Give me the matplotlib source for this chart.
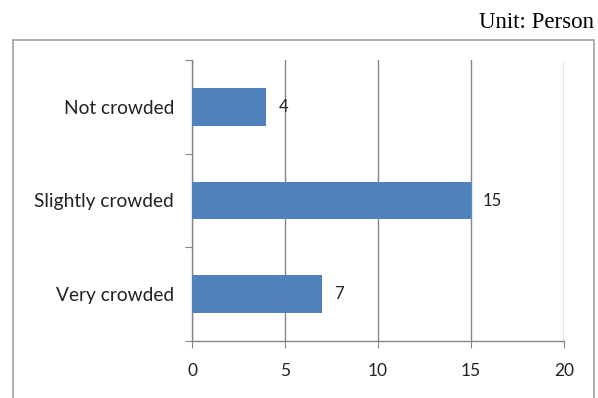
import matplotlib.pyplot as plt
from matplotlib.patches import Rectangle

categories = ['Very crowded', 'Slightly crowded', 'Not crowded']
counts = [7, 15, 4]
xticks = [0, 5, 10, 15, 20]

bar_color = '#4F81BD'
line_color = '#868686'
font = 'Lato'

fig = plt.figure(figsize=(5.98, 3.98), dpi=100)
ax = fig.add_axes([192 / 598, 57 / 398, 372 / 598, 281 / 398])

pos = range(len(categories))
ax.barh(pos, counts, height=0.4, color=bar_color, zorder=3)
for p, v in zip(pos, counts):
    ax.text(v + 0.65, p, str(v), va='center', ha='left', fontsize=12,
            family=font, color='#222222')

ax.set_xlim(0, 20)
ax.set_ylim(-0.5, 2.5)
ax.set_xticks(xticks)
ax.set_xticklabels([str(t) for t in xticks], family=font, fontsize=12.5,
                   color='#222222')
ax.set_yticks([-0.5, 0.5, 1.5, 2.5])
ax.set_yticklabels([])
ax.set_yticks(list(pos), minor=True)
ax.set_yticklabels(categories, minor=True, family=font, fontsize=13.8,
                   color='#222222')
ax.tick_params(axis='y', which='minor', length=0, pad=13)
ax.tick_params(axis='y', which='major', length=5, color=line_color)
ax.tick_params(axis='x', length=5, color=line_color, pad=11)

ax.grid(axis='x', color=line_color, linewidth=1, zorder=0)
for s in ['top', 'right']:
    ax.spines[s].set_visible(False)
for s in ['left', 'bottom']:
    ax.spines[s].set_color(line_color)
    ax.spines[s].set_linewidth(1)

# outer frame of the chart
fig.add_artist(Rectangle((13 / 598, -0.02), 581 / 598, 0.02 + 358 / 398,
                         transform=fig.transFigure, fill=False,
                         edgecolor='#A0A0A0', linewidth=1.2))

fig.text(594 / 598, 1 - 22 / 398, 'Unit: Person', ha='right', va='center',
         family='Liberation Serif', fontsize=16.5)

fig.savefig('out.png', dpi=100)
